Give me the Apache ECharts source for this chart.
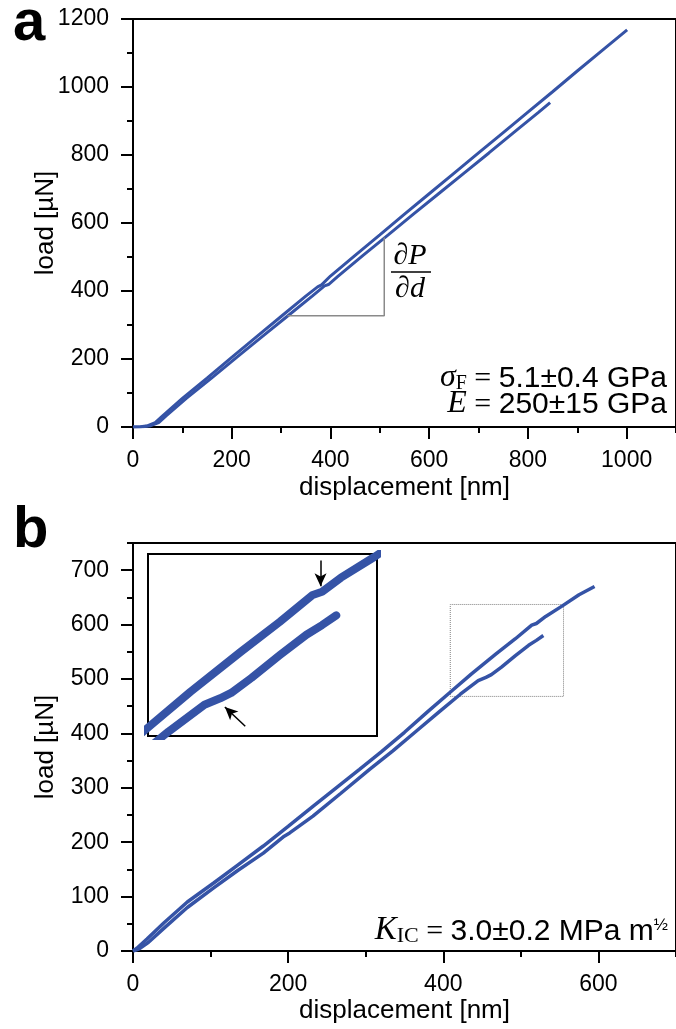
<!DOCTYPE html>
<html>
<head>
<meta charset="utf-8">
<script src="https://cdn.jsdelivr.net/npm/echarts@6/dist/echarts.min.js"></script>
<style>
html,body{margin:0;padding:0;background:#fff;}
#main{width:676px;height:1029px;}
</style>
</head>
<body>
<div id="main"></div>
<script>
// panel a : load vs displacement [nm, uN]
var aUpper = [[0,0],[15,1],[30,4],[45,13],[60,33],[100,84],[150,144],[200,205],[250,265],[300,325],[350,385],[374,412],[382,418],[400,444],[450,505],[500,565],[550,626],[600,686],[650,746],[700,806],[750,866],[800,926],[850,986],[900,1047],[950,1107],[1001,1168]];
var aLower = [[0,0],[20,1],[36,4],[52,13],[67,33],[108,84],[159,144],[210,205],[261,265],[312,325],[363,385],[388,415],[396,419],[415,443],[466,505],[517,565],[568,626],[619,686],[670,746],[721,806],[771,866],[822,926],[845,954]];
var aSlope = [[313,327],[509,327],[509,557]];

// panel b
var bUpper = [[0,0],[5,5],[18,22],[40,52],[70,90],[104,125],[135,158],[168,193],[200,229],[232,266],[262,300],[292,334],[320,366],[350,402],[380,440],[410,477],[436,509],[468,546],[493,574],[514,599],[520,602],[532,615],[553,634],[575,655],[595,670]];
var bLower = [[0,0],[8,4],[20,16],[40,42],[70,80],[104,116],[135,148],[168,180],[195,211],[202,217],[232,248],[268,290],[305,334],[335,368],[365,404],[395,440],[422,472],[445,497],[455,503],[462,508],[475,522],[493,543],[510,562],[520,571],[529,580]];
var bZoomBox = [[409,468],[555,637]];
var bArrows = [[[519,631],[519,607]],[[471,477],[458,495]]];

var myChart = echarts.init(document.getElementById('main'));
var blue = '#3553a6';
var sans = 'Liberation Sans, Arial, sans-serif';
var serif = 'Liberation Serif, Times New Roman, serif';

function mainAxis(grid, min, max, step, name, gap, isY, showMax) {
	return {
		gridIndex: grid, type: 'value', min: min, max: max, interval: step,
		position: isY ? 'left' : 'bottom',
		name: name, nameLocation: 'middle', nameGap: gap, nameMoveOverlap: false,
		nameTextStyle: { color: '#000', fontSize: 26, fontFamily: sans },
		axisLine: { show: true, onZero: false, lineStyle: { color: '#000', width: 2 } },
		axisTick: { show: true, length: 12, lineStyle: { color: '#000', width: 2 } },
		splitLine: { show: false },
		axisLabel: {
			color: '#000', fontSize: 23, fontFamily: sans, margin: isY ? 24 : 22, showMaxLabel: !!showMax,
			formatter: function (v) { return String(v); }
		}
	};
}
function minorAxis(grid, min, max, step, isY) {
	return {
		gridIndex: grid, type: 'value', min: min, max: max, interval: step,
		position: isY ? 'left' : 'bottom', offset: 0,
		axisLine: { show: false },
		axisTick: { show: true, length: 6, lineStyle: { color: '#000', width: 2 } },
		splitLine: { show: false },
		axisLabel: { show: false }
	};
}
function hiddenAxis(grid, min, max) {
	return { gridIndex: grid, type: 'value', min: min, max: max, show: false, splitLine: { show: false } };
}

var option = {
	animation: false,
	backgroundColor: '#fff',
	grid: [
		{ left: 133, top: 19, width: 544, height: 408, show: true, borderColor: '#000', borderWidth: 2 },
		{ left: 133, top: 543, width: 545, height: 408, show: true, borderColor: '#000', borderWidth: 2 },
		{ left: 148, top: 554, width: 229, height: 182, show: true, borderColor: '#000', borderWidth: 2, backgroundColor: '#fff' }
	],
	xAxis: [
		mainAxis(0, 0, 1100, 200, 'displacement [nm]', 48, false, false),
		minorAxis(0, 0, 1100, 100, false),
		mainAxis(1, 0, 700, 200, 'displacement [nm]', 47, false, false),
		minorAxis(1, 0, 700, 100, false),
		hiddenAxis(2, bZoomBox[0][0], bZoomBox[1][0])
	],
	yAxis: [
		mainAxis(0, 0, 1200, 200, 'load [µN]', 74, true, true),
		minorAxis(0, 0, 1200, 100, true),
		mainAxis(1, 0, 750, 100, 'load [µN]', 74, true, false),
		minorAxis(1, 0, 750, 50, true),
		hiddenAxis(2, bZoomBox[0][1], bZoomBox[1][1])
	],
	series: [
		{ type: 'line', xAxisIndex: 0, yAxisIndex: 0, data: aUpper, showSymbol: false, lineStyle: { color: blue, width: 3 } },
		{ type: 'line', xAxisIndex: 0, yAxisIndex: 0, data: aLower, showSymbol: false, lineStyle: { color: blue, width: 3 } },
		{ type: 'line', xAxisIndex: 0, yAxisIndex: 0, data: aSlope, showSymbol: false, lineStyle: { color: '#8a8a8a', width: 1.5 } },
		{
			type: 'line', xAxisIndex: 2, yAxisIndex: 2, data: bUpper, showSymbol: false, lineStyle: { color: blue, width: 3.5 },
			markArea: {
				silent: true,
				itemStyle: { color: 'rgba(0,0,0,0)', borderColor: '#808080', borderWidth: 1, borderType: 'dotted' },
				data: [[{ coord: bZoomBox[0] }, { coord: bZoomBox[1] }]]
			}
		},
		{ type: 'line', xAxisIndex: 2, yAxisIndex: 2, data: bLower, showSymbol: false, lineStyle: { color: blue, width: 3.5 } },
		{ type: 'line', xAxisIndex: 4, yAxisIndex: 4, data: bUpper, showSymbol: false, lineStyle: { color: blue, width: 8, cap: 'round', join: 'round' } },
		{
			type: 'line', xAxisIndex: 4, yAxisIndex: 4, data: bLower, showSymbol: false, lineStyle: { color: blue, width: 8, cap: 'round', join: 'round' },
			markLine: {
				silent: true, symbol: ['none', 'arrow'], symbolSize: [9, 13],
				label: { show: false },
				lineStyle: { color: '#000', width: 1.5, type: 'solid' },
				data: bArrows.map(function (a) { return [{ coord: a[0] }, { coord: a[1] }]; })
			}
		}
	],
	graphic: [
		{ type: 'text', x: 13, y: -5, style: { text: 'a', fontSize: 58, fontWeight: 'bold', fontFamily: sans, fill: '#000' } },
		{ type: 'text', x: 13, y: 502, style: { text: 'b', fontSize: 58, fontWeight: 'bold', fontFamily: sans, fill: '#000' } },
		{ type: 'text', x: 410, y: 256, style: { text: '∂P', align: 'center', verticalAlign: 'middle', fontSize: 30, fontStyle: 'italic', fontFamily: serif, fill: '#000' } },
		{ type: 'line', shape: { x1: 391, y1: 272, x2: 431, y2: 272 }, style: { stroke: '#000', lineWidth: 1.5 } },
		{ type: 'text', x: 410, y: 289, style: { text: '∂d', align: 'center', verticalAlign: 'middle', fontSize: 30, fontStyle: 'italic', fontFamily: serif, fill: '#000' } },
		{
			type: 'text', x: 667, y: 380,
			style: {
				text: '{it|σ}{sub|F}{eq| = }{t|5.1±0.4 GPa}', align: 'right', verticalAlign: 'middle',
				rich: {
					it: { fontFamily: serif, fontStyle: 'italic', fontSize: 32, lineHeight: 28, verticalAlign: 'bottom' },
					sub: { fontFamily: serif, fontSize: 20, lineHeight: 22, verticalAlign: 'bottom' },
					eq: { fontFamily: serif, fontSize: 30, lineHeight: 28, verticalAlign: 'bottom' },
					t: { fontFamily: sans, fontSize: 30, lineHeight: 28, verticalAlign: 'bottom' }
				}
			}
		},
		{
			type: 'text', x: 667, y: 406,
			style: {
				text: '{it|E}{eq| = }{t|250±15 GPa}', align: 'right', verticalAlign: 'middle',
				rich: {
					it: { fontFamily: serif, fontStyle: 'italic', fontSize: 32, lineHeight: 28, verticalAlign: 'bottom' },
					eq: { fontFamily: serif, fontSize: 30, lineHeight: 28, verticalAlign: 'bottom' },
					t: { fontFamily: sans, fontSize: 30, lineHeight: 28, verticalAlign: 'bottom' }
				}
			}
		},
		{
			type: 'text', x: 668, y: 932,
			style: {
				text: '{it|K}{sub|IC}{eq| = }{t|3.0±0.2 MPa m}{sup|½}', align: 'right', verticalAlign: 'middle',
				rich: {
					it: { fontFamily: serif, fontStyle: 'italic', fontSize: 33, lineHeight: 30, verticalAlign: 'bottom' },
					sub: { fontFamily: serif, fontSize: 22, lineHeight: 22, verticalAlign: 'bottom' },
					eq: { fontFamily: serif, fontSize: 30, lineHeight: 30, verticalAlign: 'bottom' },
					t: { fontFamily: sans, fontSize: 30, lineHeight: 30, verticalAlign: 'bottom' },
					sup: { fontFamily: sans, fontSize: 17, lineHeight: 30, verticalAlign: 'top' }
				}
			}
		}
	]
};

myChart.setOption(option);
window.onresize = myChart.resize;
</script>
</body>
</html>
